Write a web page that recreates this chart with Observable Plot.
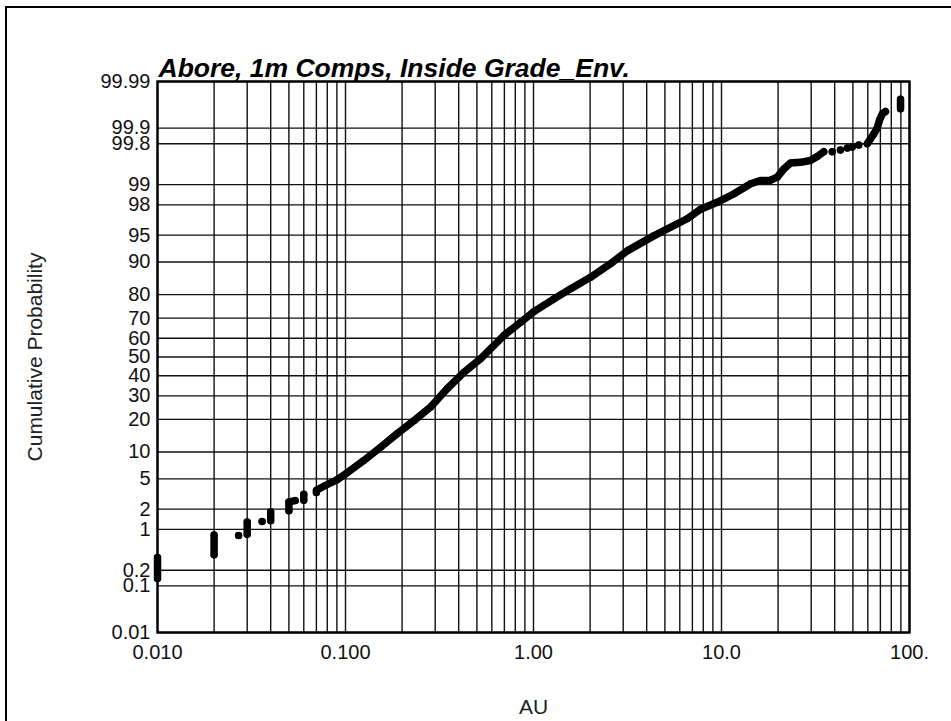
<!DOCTYPE html>
<html>
<head>
<meta charset="utf-8">
<script src="https://cdn.jsdelivr.net/npm/d3@7"></script>
<script src="https://cdn.jsdelivr.net/npm/@observablehq/plot@0.6"></script>
<style>
  html, body { margin: 0; padding: 0; background: #fff; }
  #wrap { position: relative; width: 951px; height: 721px; overflow: hidden; }
  #border { position: absolute; left: 5px; top: 6px; width: 1000px; height: 800px;
            border-left: 2px solid #000; border-top: 2px solid #000; pointer-events: none; }
  #chart { position: absolute; left: 0; top: 0; }
  svg { font-family: "Liberation Sans", Arial, Helvetica, sans-serif; }
</style>
</head>
<body>
<div id="wrap"><div id="chart"></div><div id="border"></div></div>
<script>
// ---- data (AU grade vs cumulative probability, %) ----
const title = "Abore, 1m Comps, Inside Grade_Env.";
const xLabel = "AU";
const yLabel = "Cumulative Probability";

// samples: grade (AU), cumulative probability (%), and the run of touching points they belong to
const au = [
  0.01, 0.01, 0.01,
  0.02, 0.02,
  0.027,
  0.03, 0.03,
  0.036,
  0.04, 0.04,
  0.05, 0.05, 0.054,
  0.06, 0.06,
  0.07, 0.07, 0.078, 0.090, 0.102, 0.125, 0.154, 0.188, 0.231, 0.283, 0.347, 0.426,
  0.522, 0.695, 0.853, 1.004, 1.28, 1.57, 2.01, 2.57, 3.15, 4.36, 6.57, 7.73, 9.49, 11.6, 14.3,
  16.1, 18.2, 19.8, 21.4, 23.3, 26.3, 29.7, 32.3, 35.0,
  38.8, 42.9, 46.7, 49.6, 53.7,
  59.6, 62.1, 64.6, 67.3, 69.2, 71.6, 74.5,
  89.6, 89.6
];
const cumProb = [
  0.14, 0.22, 0.34,
  0.38, 0.81,
  0.80,
  0.84, 1.30,
  1.32,
  1.35, 1.83,
  1.89, 2.53, 2.63,
  2.66, 3.19,
  3.36, 3.60, 4.14, 4.87, 5.9, 8.1, 11.2, 15.0, 19.5, 24.9, 33.4, 41.8,
  49.0, 61.4, 68.0, 73.0, 78.3, 82.1, 85.9, 89.6, 92.4, 94.9, 96.9, 97.7, 98.16, 98.61, 99.03,
  99.14, 99.15, 99.24, 99.44, 99.56, 99.57, 99.60, 99.66, 99.72,
  99.72, 99.74, 99.76, 99.77, 99.79,
  99.80, 99.84, 99.87, 99.90, 99.93, 99.948, 99.954,
  99.960, 99.975
];
const runId = [
  "a", "a", "a",
  "b", "b",
  "c",
  "d", "d",
  "e",
  "f", "f",
  "g", "g", "g",
  "h", "h",
  "i", "i", "i", "i", "i", "i", "i", "i", "i", "i", "i", "i",
  "i", "i", "i", "i", "i", "i", "i", "i", "i", "i", "i", "i", "i", "i", "i",
  "i", "i", "i", "i", "i", "i", "i", "i", "i",
  "j", "k", "l", "m", "n",
  "o", "o", "o", "o", "o", "o", "o",
  "p", "p"
];

// axis ticks
const xTicks = [0.01, 0.1, 1, 10, 100];
const xTickLabels = ["0.010", "0.100", "1.00", "10.0", "100."];
const yTicks = [0.01, 0.1, 0.2, 1, 2, 5, 10, 20, 30, 40, 50, 60, 70, 80, 90, 95, 98, 99, 99.8, 99.9, 99.99];
const yTickLabels = ["0.01", "0.1", "0.2", "1", "2", "5", "10", "20", "30", "40", "50", "60", "70", "80", "90", "95", "98", "99", "99.8", "99.9", "99.99"];

// ---- inverse standard normal CDF (probability paper) ----
function probit(p) {
  const a = [-3.969683028665376e+01, 2.209460984245205e+02, -2.759285104469687e+02, 1.383577518672690e+02, -3.066479806614716e+01, 2.506628277459239e+00];
  const b = [-5.447609879822406e+01, 1.615858368580409e+02, -1.556989798598866e+02, 6.680131188771972e+01, -1.328068155288572e+01];
  const c = [-7.784894002430293e-03, -3.223964580411365e-01, -2.400758277161838e+00, -2.549671010336300e+00, 4.374664141464968e+00, 2.938163982698783e+00];
  const d = [7.784695709041462e-03, 3.224671290700398e-01, 2.445134137142996e+00, 3.754408661907416e+00];
  const pl = 0.02425, ph = 1 - pl;
  if (p < pl) {
    const q = Math.sqrt(-2 * Math.log(p));
    return (((((c[0]*q+c[1])*q+c[2])*q+c[3])*q+c[4])*q+c[5]) / ((((d[0]*q+d[1])*q+d[2])*q+d[3])*q+1);
  }
  if (p <= ph) {
    const q = p - 0.5, r = q * q;
    return (((((a[0]*r+a[1])*r+a[2])*r+a[3])*r+a[4])*r+a[5])*q / (((((b[0]*r+b[1])*r+b[2])*r+b[3])*r+b[4])*r+1);
  }
  const q = Math.sqrt(-2 * Math.log(1 - p));
  return -(((((c[0]*q+c[1])*q+c[2])*q+c[3])*q+c[4])*q+c[5]) / ((((d[0]*q+d[1])*q+d[2])*q+d[3])*q+1);
}
const z = (pct) => probit(pct / 100);

const samples = au.map((v, i) => ({au: v, p: cumProb[i], run: runId[i]}));

// x grid: 1..9 within each decade
const xGrid = [];
for (let e = -2; e <= 1; e++) for (let m = 1; m <= 9; m++) xGrid.push(m * Math.pow(10, e));
xGrid.push(100);

const yTickZ = yTicks.map(z);
const yLabelByZ = new Map(yTickZ.map((v, i) => [v, yTickLabels[i]]));
const xLabelByV = new Map(xTicks.map((v, i) => [v, xTickLabels[i]]));

const ink = "#111";

const chart = Plot.plot({
  width: 951,
  height: 721,
  marginLeft: 157,
  marginRight: 42,
  marginTop: 81,
  marginBottom: 89,
  style: {fontFamily: "'Liberation Sans', Arial, Helvetica, sans-serif", background: "transparent", color: "#000"},
  x: {type: "log", domain: [0.01, 100], axis: null},
  y: {type: "linear", domain: [z(0.01), z(99.99)], axis: null},
  marks: [
    Plot.gridX(xGrid, {stroke: ink, strokeOpacity: 1, strokeWidth: 1.4}),
    Plot.gridY(yTickZ, {stroke: ink, strokeOpacity: 1, strokeWidth: 1.4}),
    Plot.frame({stroke: "#000", strokeWidth: 2.4}),
    Plot.line(samples, {x: "au", y: d => z(d.p), z: "run", stroke: "#000", strokeWidth: 7.5,
                        strokeLinecap: "round", strokeLinejoin: "round", curve: "linear"}),
    Plot.dot(samples, {x: "au", y: d => z(d.p), r: 3.5, fill: "#000", stroke: null}),
    Plot.axisX(xTicks, {tickSize: 0, tickPadding: 12, fontSize: 20, fill: "#111",
                        tickFormat: d => xLabelByV.get(d), label: null}),
    Plot.axisY(yTickZ, {tickSize: 0, tickPadding: 7, fontSize: 20, fill: "#111",
                        tickFormat: d => yLabelByZ.get(d), label: null}),
    Plot.text([yLabel], {frameAnchor: "left", dx: -122, rotate: -90, textAnchor: "middle", lineAnchor: "middle",
                         fontSize: 21, fill: "#222"}),
    Plot.text([xLabel], {frameAnchor: "bottom", dy: 75, lineAnchor: "middle", textAnchor: "middle",
                         fontSize: 21, fill: "#222"}),
    Plot.text([title], {frameAnchor: "top-left", dx: 1, dy: -5, lineAnchor: "bottom", textAnchor: "start",
                        fontSize: 26.5, fontWeight: "bold", fontStyle: "italic", fill: "#000"})
  ]
});
document.getElementById("chart").appendChild(chart);
</script>
</body>
</html>
